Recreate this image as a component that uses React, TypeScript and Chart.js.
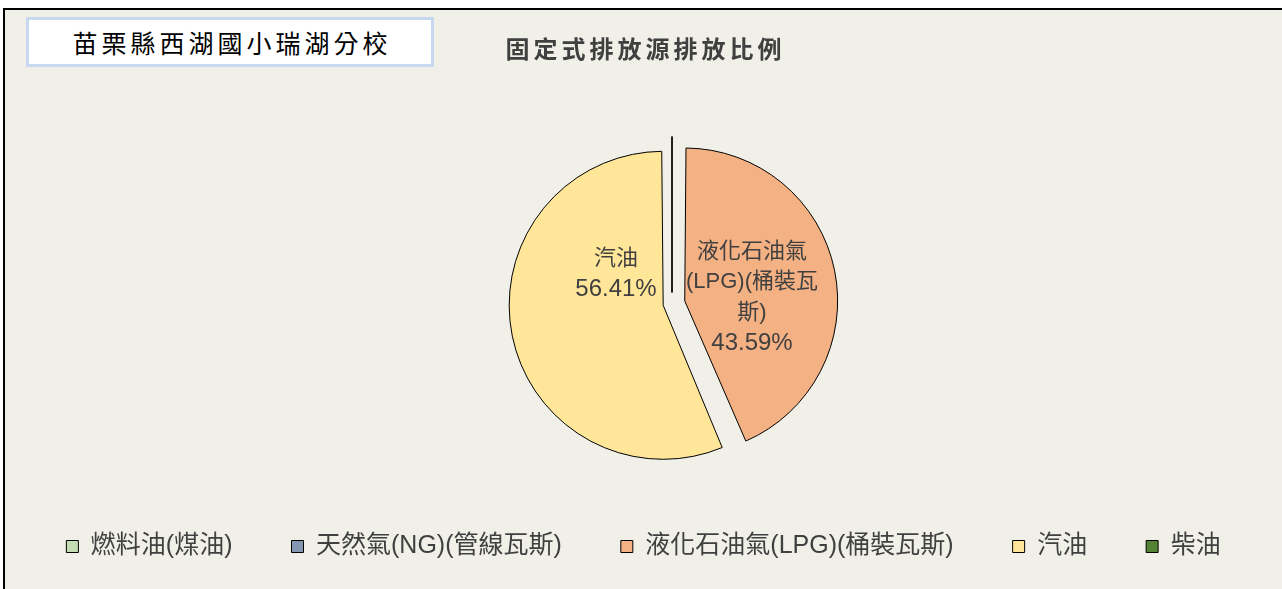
import React, { useEffect, useRef } from 'react';
import { Chart, registerables } from 'chart.js';

Chart.register(...registerables);

// ---- data ----
const SCHOOL = '苗栗縣西湖國小瑞湖分校';
const TITLE = '固定式排放源排放比例';
const CATEGORIES = ['燃料油(煤油)', '天然氣(NG)(管線瓦斯)', '液化石油氣(LPG)(桶裝瓦斯)', '汽油', '柴油'];
const SHARES = [0, 0, 43.59, 56.41, 0];
const COLORS = ['#C5DDB5', '#8497B0', '#F4B183', '#FFE699', '#548235'];

// ---- styles ----
const BG = '#F1F0E8';
const TEXT = '#404040';
const FONT = "'Liberation Sans', 'Noto Sans CJK TC', sans-serif";
const CJK_FONT = "'Noto Sans CJK TC', 'Liberation Sans', sans-serif";
const SLICE_OFFSETS = [44, 44, 52, 36, 44];
const LABEL_ANCHORS: Record<number, [number, number]> = { 2: [80, -6], 3: [-56, -29] };
const LABEL_LINE_GAP = 30.5;
const LABEL_WRAP = 150;

function tokenize(s: string): string[] {
  return s.match(/\(?[A-Za-z0-9.%]+\)?|\(?[^\x00-\x7F]\)?|./g) || [];
}

function wrap(ctx: CanvasRenderingContext2D, s: string, maxW: number): string[] {
  const lines: string[] = [];
  let cur = '';
  for (const t of tokenize(s)) {
    const test = cur + t;
    if (cur && ctx.measureText(test).width > maxW) {
      lines.push(cur);
      cur = t;
    } else {
      cur = test;
    }
  }
  if (cur) lines.push(cur);
  return lines;
}

const slicePlugin = {
  id: 'sliceLabels',
  afterDatasetsDraw(chart: any) {
    const ctx: CanvasRenderingContext2D = chart.ctx;
    const meta = chart.getDatasetMeta(0);
    const data = chart.data.datasets[0].data as number[];
    const total = data.reduce((a, b) => a + b, 0);
    meta.data.forEach((el: any, i: number) => {
      const { x, y, startAngle, outerRadius } = el.getProps(['x', 'y', 'startAngle', 'outerRadius'], true);
      const off = (el.options.offset || 0) / 4;
      ctx.save();
      if (data[i] === 0) {
        ctx.strokeStyle = '#000';
        ctx.lineWidth = 1;
        ctx.beginPath();
        ctx.moveTo(x + Math.cos(startAngle) * off, y + Math.sin(startAngle) * off);
        ctx.lineTo(x + Math.cos(startAngle) * (2 * off + outerRadius), y + Math.sin(startAngle) * (2 * off + outerRadius));
        ctx.stroke();
      } else {
        const anchor = LABEL_ANCHORS[i] || [0, 0];
        ctx.font = `24px ${FONT}`;
        const lines = wrap(ctx, String(chart.data.labels[i]), LABEL_WRAP);
        const pct = ((data[i] / total) * 100).toFixed(2) + '%';
        const all = [...lines, pct];
        const n = all.length;
        ctx.fillStyle = TEXT;
        ctx.textAlign = 'center';
        ctx.textBaseline = 'middle';
        all.forEach((line, k) => {
          ctx.font = k === n - 1 ? `24px ${FONT}` : `22px ${FONT}`;
          ctx.fillText(line, x + anchor[0], y + anchor[1] + (k - (n - 1) / 2) * LABEL_LINE_GAP);
        });
      }
      ctx.restore();
    });
  },
};

export default function App() {
  const ref = useRef<HTMLCanvasElement | null>(null);

  useEffect(() => {
    if (!ref.current) return;
    const chart = new Chart(ref.current, {
      type: 'pie',
      data: {
        labels: CATEGORIES,
        datasets: [
          {
            data: SHARES,
            backgroundColor: COLORS,
            borderColor: '#000',
            borderWidth: 1,
            offset: SLICE_OFFSETS,
            radius: 145,
          } as any,
        ],
      },
      options: {
        animation: false,
        responsive: false,
        layout: { padding: { top: 122, bottom: 20, left: 0, right: 0 } },
        plugins: {
          tooltip: { enabled: false },
          title: { display: false },
          subtitle: {
            display: true,
            position: 'left',
            text: '',
            fullSize: true,
            font: { size: 10, lineHeight: 1 },
            padding: 23.5,
          },
          legend: {
            position: 'bottom',
            labels: {
              boxWidth: 12,
              boxHeight: 12,
              padding: 59,
              color: TEXT,
              font: { size: 25, family: FONT },
            },
          },
        },
      } as any,
      plugins: [slicePlugin],
    });
    return () => chart.destroy();
  }, []);

  return (
    <div
      style={{
        position: 'absolute',
        left: 3,
        top: 8,
        width: 1277,
        height: 579,
        borderLeft: '2px solid #000',
        borderTop: '2px solid #000',
        background: BG,
        overflow: 'hidden',
      }}
    >
      <canvas ref={ref} width={1277} height={579} style={{ display: 'block' }} />
      <div
        style={{
          position: 'absolute',
          left: 21,
          top: 7,
          width: 408,
          height: 50,
          boxSizing: 'border-box',
          border: '3px solid #C6D9F1',
          background: '#FFFFFF',
          display: 'flex',
          alignItems: 'center',
          justifyContent: 'center',
          fontFamily: CJK_FONT,
          fontSize: 25,
          letterSpacing: 4,
          paddingLeft: 4,
          color: '#000',
        }}
      >
        {SCHOOL}
      </div>
      <div
        style={{
          position: 'absolute',
          left: 0,
          top: 23,
          width: 1277,
          lineHeight: '30px',
          textAlign: 'center',
          fontFamily: CJK_FONT,
          fontWeight: 'bold',
          fontSize: 24,
          letterSpacing: 4,
          paddingLeft: 4,
          boxSizing: 'border-box',
          color: TEXT,
        }}
      >
        {TITLE}
      </div>
    </div>
  );
}
